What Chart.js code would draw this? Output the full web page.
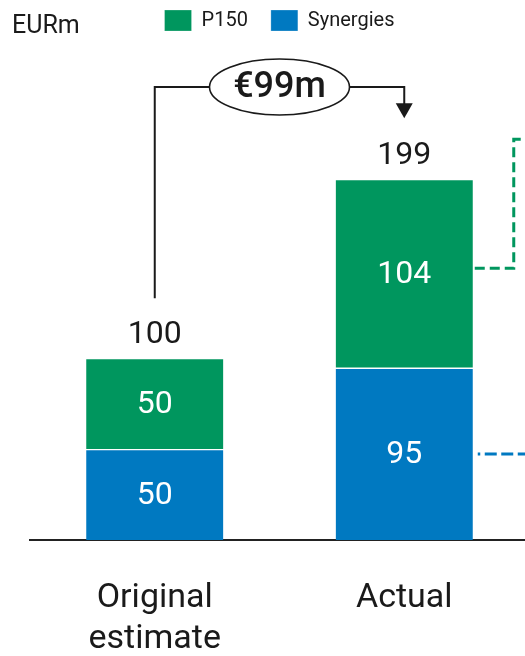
<!DOCTYPE html>
<html>
<head>
<meta charset="utf-8">
<script src="https://cdn.jsdelivr.net/npm/chart.js@4"></script>
<style>
  html, body { margin: 0; padding: 0; background: #fff; overflow: hidden; }
  #wrap { width: 529px; height: 656px; }
</style>
</head>
<body>
<div id="wrap"><canvas id="c" width="529" height="656"></canvas></div>
<script>
// Data
const categories = [['Original', 'estimate'], 'Actual'];
const synergies = [50, 95];
const p150 = [50, 104];
const seriesNames = ['Synergies', 'P150'];
const unitLabel = 'EURm';

const GREEN = '#00965E';
const BLUE = '#0079C1';
const INK = '#1a1a1a';
const FONT = 'Roboto, "Liberation Sans", sans-serif';

const totals = synergies.map((v, i) => v + p150[i]);

// Reserve fixed room under the legend so the plot starts at a set height
const legendSpace = {
  id: 'legendSpace',
  beforeInit(chart) {
    const lg = chart.legend;
    if (!lg) return;
    const fit = lg.fit;
    lg.fit = function () { fit.call(this); this.height = 101; };
  }
};

// Unit caption, value labels, the change bracket and the dashed leaders
const decor = {
  id: 'decor',
  afterDraw(chart) {
    const ctx = chart.ctx;
    const area = chart.chartArea;
    const metaS = chart.getDatasetMeta(0);
    const metaP = chart.getDatasetMeta(1);
    ctx.save();

    ctx.fillStyle = INK;
    ctx.font = `25px ${FONT}`;
    ctx.textAlign = 'left';
    ctx.textBaseline = 'alphabetic';
    ctx.fillText(unitLabel, 12, 33);

    // values inside segments
    ctx.fillStyle = '#fff';
    ctx.font = `32px ${FONT}`;
    ctx.textAlign = 'center';
    ctx.textBaseline = 'middle';
    [metaS, metaP].forEach((meta, d) => {
      meta.data.forEach((bar, i) => {
        const v = chart.data.datasets[d].data[i];
        ctx.fillText(String(v), bar.x, (bar.y + bar.base) / 2 + 1);
      });
    });

    // totals above the stacks
    ctx.fillStyle = INK;
    ctx.textBaseline = 'alphabetic';
    metaP.data.forEach((bar, i) => ctx.fillText(String(totals[i]), bar.x, bar.y - 16));

    // bracket from the estimate to the actual total
    const b0 = metaP.data[0], b1 = metaP.data[1];
    const yTop = area.top - 1;
    const ex = (b0.x + b1.x) / 2, rx = 70, ry = 28;
    ctx.strokeStyle = INK;
    ctx.lineWidth = 2;
    ctx.beginPath();
    ctx.moveTo(b0.x, b0.y - 61);
    ctx.lineTo(b0.x, yTop);
    ctx.lineTo(ex - rx, yTop);
    ctx.moveTo(ex + rx, yTop);
    ctx.lineTo(b1.x, yTop);
    ctx.lineTo(b1.x, b1.y - 76);
    ctx.stroke();
    ctx.fillStyle = INK;
    ctx.beginPath();
    ctx.moveTo(b1.x - 8.5, b1.y - 77);
    ctx.lineTo(b1.x + 8.5, b1.y - 77);
    ctx.lineTo(b1.x, b1.y - 62);
    ctx.closePath();
    ctx.fill();

    ctx.lineWidth = 1.6;
    ctx.beginPath();
    ctx.ellipse(ex, yTop, rx, ry, 0, 0, Math.PI * 2);
    ctx.fillStyle = '#fff';
    ctx.fill();
    ctx.stroke();
    ctx.fillStyle = INK;
    ctx.font = `500 36px ${FONT}`;
    ctx.textAlign = 'center';
    ctx.textBaseline = 'middle';
    ctx.fillText(`€${totals[1] - totals[0]}m`, ex, yTop + 1);

    // dashed leaders off the actual stack
    const right = b1.x + b1.width / 2;
    const gY = (b1.y + b1.base) / 2 - 6;
    ctx.lineWidth = 3;
    ctx.strokeStyle = GREEN;
    ctx.setLineDash([10, 5]);
    ctx.beginPath();
    ctx.moveTo(right + 2, gY);
    ctx.lineTo(right + 41, gY);
    ctx.lineTo(right + 41, b1.y - 41);
    ctx.lineTo(right + 60, b1.y - 41);
    ctx.stroke();

    const s1 = metaS.data[1];
    const bY = (s1.y + s1.base) / 2;
    ctx.strokeStyle = BLUE;
    ctx.setLineDash([12, 4.5]);
    ctx.lineDashOffset = 9.5;
    ctx.beginPath();
    ctx.moveTo(right + 5, bY);
    ctx.lineTo(right + 60, bY);
    ctx.stroke();

    ctx.restore();
  }
};

new Chart(document.getElementById('c'), {
  type: 'bar',
  data: {
    labels: categories,
    datasets: [
      {
        label: seriesNames[0],
        data: synergies,
        backgroundColor: BLUE,
        borderColor: '#fff',
        borderWidth: { top: 1, bottom: 0, left: 0, right: 0 },
        borderSkipped: false,
        barThickness: 137
      },
      {
        label: seriesNames[1],
        data: p150,
        backgroundColor: GREEN,
        borderColor: '#fff',
        borderWidth: { top: 0, bottom: 1, left: 0, right: 0 },
        borderSkipped: false,
        barThickness: 137
      }
    ]
  },
  options: {
    responsive: false,
    devicePixelRatio: 1,
    animation: false,
    events: [],
    layout: { padding: { left: 30, right: 0, top: -13, bottom: 0 } },
    plugins: {
      tooltip: { enabled: false },
      legend: {
        display: true,
        position: 'top',
        align: 'center',
        reverse: true,
        labels: {
          boxWidth: 27,
          boxHeight: 21,
          padding: 23,
          color: INK,
          font: { family: FONT, size: 20 }
        }
      }
    },
    scales: {
      x: {
        stacked: true,
        grid: { display: false, drawTicks: false },
        border: { display: true, color: '#222', width: 2 },
        ticks: {
          color: INK,
          font: { family: FONT, size: 34, lineHeight: 1.2 },
          padding: 38,
          maxRotation: 0,
          autoSkip: false
        },
        afterFit(scale) { scale.height = 116; }
      },
      y: {
        display: false,
        stacked: true,
        min: 0,
        max: 250
      }
    }
  },
  plugins: [legendSpace, decor]
});
</script>
</body>
</html>
